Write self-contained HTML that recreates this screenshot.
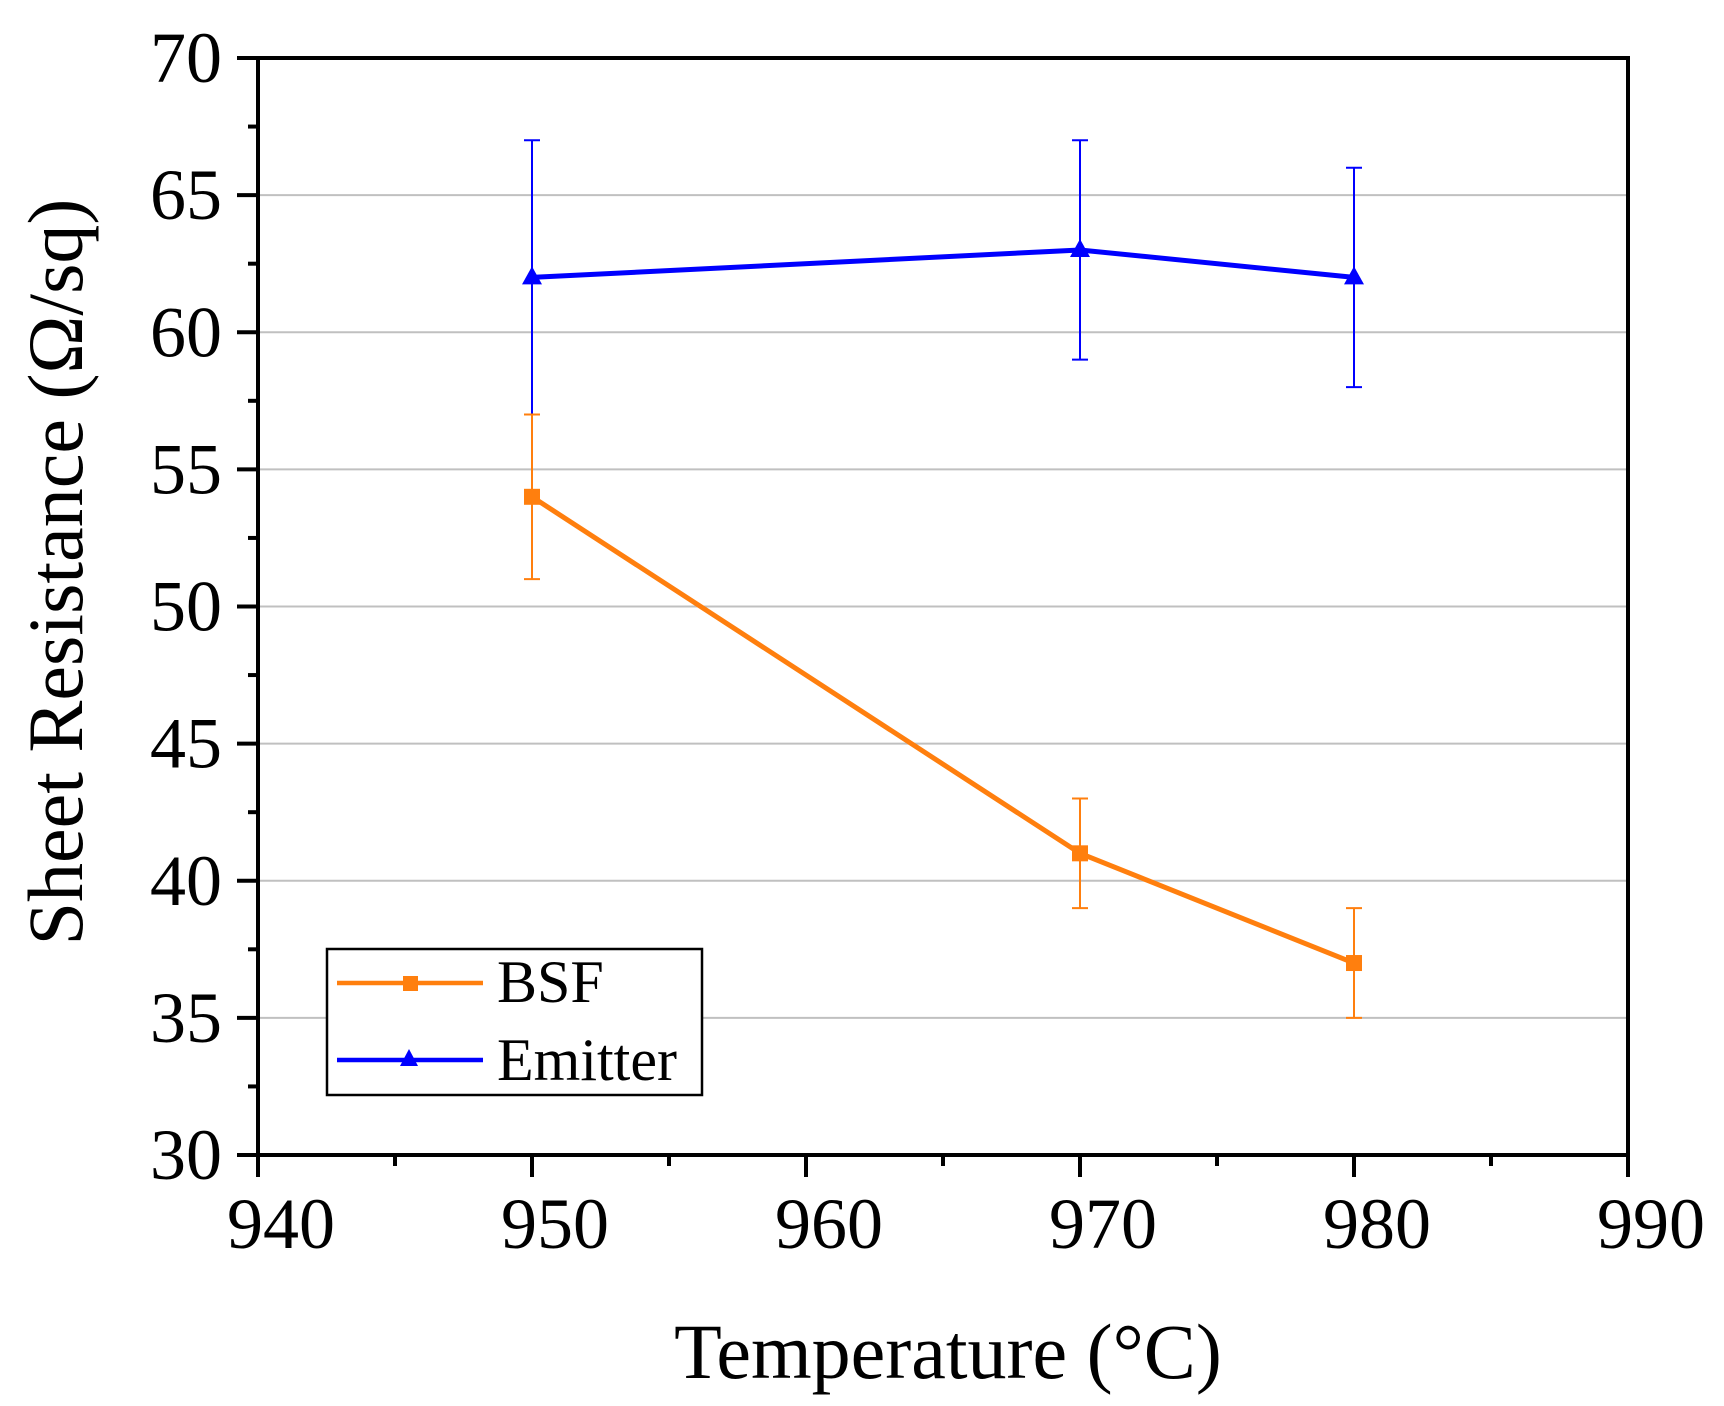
<!DOCTYPE html>
<html><head><meta charset="utf-8"><style>
html,body{margin:0;padding:0;background:#fff;}
svg{display:block;font-family:"Liberation Serif",serif;}
</style></head><body>
<svg id="chart" width="1724" height="1406" viewBox="0 0 1724 1406">
<g id="grid"></g>
<g id="series"></g>
<g id="axes"></g>
<text x="948" y="1378" font-size="78" text-anchor="middle">Temperature (°C)</text>
<text transform="translate(82,572) rotate(-90)" font-size="78" text-anchor="middle">Sheet Resistance (Ω/sq)</text>
<g>
<rect x="327" y="949" width="375" height="146" fill="#fff" stroke="#000" stroke-width="2.5"/>
<g>
<line x1="337" y1="983" x2="483" y2="983" stroke="#ff7f0e" stroke-width="4.5"/>
<rect x="403" y="976" width="15" height="15" fill="#ff7f0e"/>
<text x="497" y="1002" font-size="60">BSF</text></g>
<g>
<line x1="337" y1="1060" x2="483" y2="1060" stroke="#0000ff" stroke-width="4.5"/>
<polygon points="409,1049 400,1066 418,1066" fill="#0000ff"/>
<text x="497" y="1080" font-size="60">Emitter</text></g>
</g>
</svg>
<script>
const temps = [950, 970, 980];
const bsfValues = [54, 41, 37];
const bsfErrHigh = [57, 43, 39];
const bsfErrLow = [51, 39, 35];
const emitterValues = [62, 63, 62];
const emitterErrHigh = [67, 67, 66];
const emitterErrLow = [57, 59, 58];
const xTicks = [940, 950, 960, 970, 980, 990];
const yTicks = [30, 35, 40, 45, 50, 55, 60, 65, 70];

const L = 258, R = 1628, T = 58, B = 1155;
const xMin = 940, xMax = 990, yMin = 30, yMax = 70;
const X = v => L + (v - xMin) / (xMax - xMin) * (R - L);
const Y = v => B - (v - yMin) / (yMax - yMin) * (B - T);
const NS = "http://www.w3.org/2000/svg";
function mk(parent, tag, attrs) {
  const e = document.createElementNS(NS, tag);
  for (const k in attrs) e.setAttribute(k, attrs[k]);
  parent.appendChild(e);
  return e;
}
const grid = document.getElementById('grid');
const axes = document.getElementById('axes');
const series = document.getElementById('series');

yTicks.forEach(v => {
  if (v > yMin && v < yMax) {
    const g = mk(grid, 'line', {x1: L, x2: R, y1: Y(v), y2: Y(v), stroke: '#c0c0c0', 'stroke-width': 2});
    
    
  }
  const t = mk(axes, 'line', {x1: L - 21, x2: L, y1: Y(v), y2: Y(v), stroke: '#000', 'stroke-width': 4});
  
  
  const lb = mk(axes, 'text', {x: L - 36, y: Y(v) + 24, 'font-size': 72, 'text-anchor': 'end'});
  lb.textContent = v;
  
  
  if (v < yMax) {
    const m = mk(axes, 'line', {x1: L - 10, x2: L, y1: Y(v + 2.5), y2: Y(v + 2.5), stroke: '#000', 'stroke-width': 4});
    
    
  }
});
xTicks.forEach((v, i) => {
  const t = mk(axes, 'line', {x1: X(v), x2: X(v), y1: B, y2: B + 22, stroke: '#000', 'stroke-width': 4});
  
  
  const lb = mk(axes, 'text', {x: X(v) + 23, y: B + 93, 'font-size': 72, 'text-anchor': 'middle'});
  lb.textContent = v;
  
  
  if (i < xTicks.length - 1) {
    const m = mk(axes, 'line', {x1: X(v + 5), x2: X(v + 5), y1: B, y2: B + 11, stroke: '#000', 'stroke-width': 4});
    
    
  }
});
const frame = mk(axes, 'rect', {x: L, y: T, width: R - L, height: B - T, fill: 'none', stroke: '#000', 'stroke-width': 4});



function drawSeries(name, vals, hi, lo, color, marker) {
  const g = mk(series, 'g', {});
  
  
  temps.forEach((t, i) => {
    const x = X(t);
    const eb = mk(g, 'path', {d: `M${x},${Y(hi[i])}V${Y(lo[i])}M${x-8},${Y(hi[i])}H${x+8}M${x-8},${Y(lo[i])}H${x+8}`, stroke: color, 'stroke-width': 2, fill: 'none'});
    
    
  });
  const pl = mk(g, 'polyline', {points: temps.map((t, i) => X(t) + ',' + Y(vals[i])).join(' '), fill: 'none', stroke: color, 'stroke-width': 5, 'stroke-linejoin': 'round'});
  
  
  temps.forEach((t, i) => {
    const x = X(t), y = Y(vals[i]);
    let m;
    if (marker === 'square') m = mk(g, 'rect', {x: x - 8, y: y - 8, width: 16, height: 16, fill: color});
    else m = mk(g, 'polygon', {points: `${x},${y-11} ${x-10},${y+7} ${x+10},${y+7}`, fill: color});
    
    
  });
}
drawSeries('emitter', emitterValues, emitterErrHigh, emitterErrLow, '#0000ff', 'triangle');
drawSeries('bsf', bsfValues, bsfErrHigh, bsfErrLow, '#ff7f0e', 'square');
</script>
</body></html>
